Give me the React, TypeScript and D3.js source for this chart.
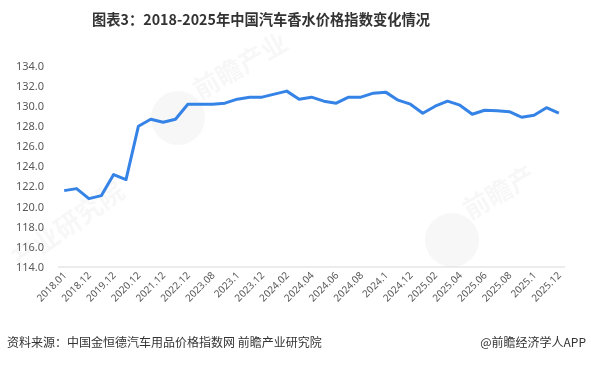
import { line, scaleBand, scaleLinear } from "d3";

const categories: string[] = [
  "2018.01", "2018.06", "2018.12", "2019.06", "2019.12", "2020.06", "2020.12",
  "2021.06", "2021.12", "2022.06", "2022.12", "2023.06", "2023.08", "2023.09",
  "2023.1", "2023.11", "2023.12", "2024.01", "2024.02", "2024.03", "2024.04",
  "2024.05", "2024.06", "2024.07", "2024.08", "2024.09", "2024.1", "2024.11",
  "2024.12", "2025.01", "2025.02", "2025.03", "2025.04", "2025.05", "2025.06",
  "2025.07", "2025.08", "2025.09", "2025.1", "2025.11", "2025.12",
];

const indexValues: number[] = [
  121.6, 121.8, 120.8, 121.1, 123.2, 122.7, 128.0, 128.7, 128.4, 128.7,
  130.2, 130.2, 130.2, 130.3, 130.7, 130.9, 130.9, 131.2, 131.5, 130.7,
  130.9, 130.5, 130.3, 130.9, 130.9, 131.3, 131.4, 130.6, 130.2, 129.3,
  130.0, 130.5, 130.1, 129.2, 129.6, 129.55, 129.45, 128.9, 129.1, 129.85,
  129.3,
];

const yTicks: number[] = [114, 116, 118, 120, 122, 124, 126, 128, 130, 132, 134];

const title = "图表3：2018-2025年中国汽车香水价格指数变化情况";
const source = "资料来源：中国金恒德汽车用品价格指数网  前瞻产业研究院";
const credit = "@前瞻经济学人APP";

const cjk = "'Noto Sans CJK SC', 'Noto Sans', sans-serif";
const latin = "'Noto Sans', 'Liberation Sans', sans-serif";

export default function App() {
  const width = 591;
  const height = 365;
  const plot = { left: 58, right: 565, top: 66, bottom: 267 };

  const x = scaleBand<string>()
    .domain(categories)
    .range([plot.left, plot.right]);
  const y = scaleLinear().domain([114, 134]).range([plot.bottom, plot.top]);
  const cx = (c: string) => (x(c) ?? 0) + x.bandwidth() / 2;

  const path = line<number>()
    .x((_, i) => cx(categories[i]))
    .y((d) => y(d));

  return (
    <svg
      width={width}
      height={height}
      style={{ position: "absolute", left: 0, top: 0, background: "#fff" }}
    >
      {/* faint watermarks */}
      <g fill="#000" opacity={0.035} fontFamily={cjk} fontWeight="bold">
        <circle cx={178} cy={118} r={27} />
        <text x={200} y={100} fontSize={26} transform="rotate(-30 200 100)">
          前瞻产业
        </text>
        <text x={20} y={270} fontSize={26} transform="rotate(-35 20 270)">
          产业研究院
        </text>
        <circle cx={452} cy={240} r={27} />
        <text x={470} y={220} fontSize={26} transform="rotate(-30 470 220)">
          前瞻产
        </text>
      </g>

      <text
        x={92}
        y={25}
        textLength={338}
        lengthAdjust="spacingAndGlyphs"
        fontFamily={cjk}
        fontWeight="bold"
        fontSize={15}
        fill="#333"
      >
        {title}
      </text>

      {yTicks.map((t) => (
        <text
          key={t}
          x={44}
          y={y(t)}
          dy="0.35em"
          textAnchor="end"
          fontFamily={latin}
          fontSize={11}
          fill="#595959"
        >
          {t.toFixed(1)}
        </text>
      ))}

      <line
        x1={plot.left}
        x2={plot.right}
        y1={plot.bottom}
        y2={plot.bottom}
        stroke="#d9d9d9"
      />

      {categories.map((c, i) =>
        i % 2 === 0 ? (
          <text
            key={c}
            transform={`translate(${cx(c) + 3},${plot.bottom + 9}) rotate(-45)`}
            textAnchor="end"
            fontFamily={latin}
            fontSize={10}
            fill="#595959"
          >
            {c}
          </text>
        ) : null,
      )}

      <path
        d={path(indexValues) || ""}
        fill="none"
        stroke="#3583e6"
        strokeWidth={3}
        strokeLinejoin="round"
      />

      <text x={7} y={347} fontFamily={cjk} fontSize={12} fill="#333">
        {source}
      </text>
      <text
        x={586}
        y={347}
        textAnchor="end"
        fontFamily={cjk}
        fontSize={12}
        fill="#333"
      >
        {credit}
      </text>
    </svg>
  );
}
